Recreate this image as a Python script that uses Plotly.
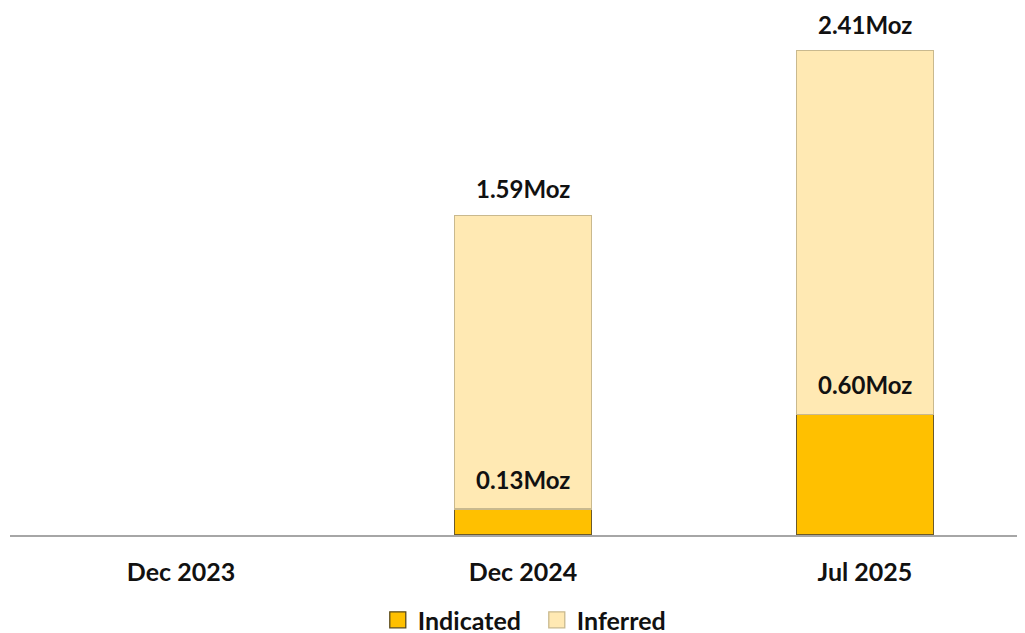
import plotly.graph_objects as go

categories = ["Dec 2023", "Dec 2024", "Jul 2025"]
indicated = [None, 0.13, 0.60]
inferred = [None, 1.46, 1.81]
totals = [None, 1.59, 2.41]
indicated_labels = ["", "0.13Moz", "0.60Moz"]
total_labels = ["", "1.59Moz", "2.41Moz"]

FONT = "Lato"
IND_COLOR, IND_LINE = "#FFC000", "#6B5A2A"
INF_COLOR, INF_LINE = "#FFE9B3", "#C9B98E"

fig = go.Figure()
fig.add_trace(go.Bar(
    x=categories, y=indicated, name="Indicated", showlegend=False,
    marker=dict(color=IND_COLOR, line=dict(color=IND_LINE, width=1.3)),
))
fig.add_trace(go.Bar(
    x=categories, y=inferred, name="Inferred", showlegend=False,
    marker=dict(color=INF_COLOR, line=dict(color=INF_LINE, width=1.3)),
))
# legend entries with larger square symbols
fig.add_trace(go.Scatter(x=[None], y=[None], mode="markers", name="Indicated",
                         marker=dict(symbol="square", size=18, color=IND_COLOR,
                                     line=dict(color="#5A4A1A", width=1.3))))
fig.add_trace(go.Scatter(x=[None], y=[None], mode="markers", name="Inferred",
                         marker=dict(symbol="square", size=18, color=INF_COLOR,
                                     line=dict(color=INF_LINE, width=1.3))))

for c, ind, lab in zip(categories, indicated, indicated_labels):
    if lab:
        fig.add_annotation(x=c, y=ind, text=lab, showarrow=False, yanchor="bottom", yshift=13,
                           font=dict(family=FONT, size=24, color="#111111", weight="bold"))
for c, tot, lab in zip(categories, totals, total_labels):
    if lab:
        fig.add_annotation(x=c, y=tot, text=lab, showarrow=False, yanchor="bottom", yshift=11,
                           borderpad=0,
                           font=dict(family=FONT, size=24, color="#111111", weight="bold"))

fig.update_layout(
    barmode="stack",
    bargap=0.6,
    width=1025, height=633,
    margin=dict(l=2, r=8, t=0, b=106, autoexpand=False),
    plot_bgcolor="white", paper_bgcolor="white",
    font=dict(family=FONT, color="#111111"),
    legend=dict(orientation="h", x=0.519, xanchor="center", yref="container", y=0.033,
                yanchor="middle",
                font=dict(family=FONT, size=25, color="#111111", weight="bold"),
                itemwidth=30, entrywidth=114, entrywidthmode="pixels", traceorder="normal"),
    xaxis=dict(range=[-0.5, 2.468], showgrid=False, showline=True, linecolor="#A6A6A6", linewidth=1.5,
               ticks="", tickfont=dict(family=FONT, size=25, color="#111111", weight="bold"),
               ticklabelstandoff=14, zeroline=False),
    yaxis=dict(range=[0, 2.622], visible=False, showgrid=False),
)

fig.write_html("out.html")
